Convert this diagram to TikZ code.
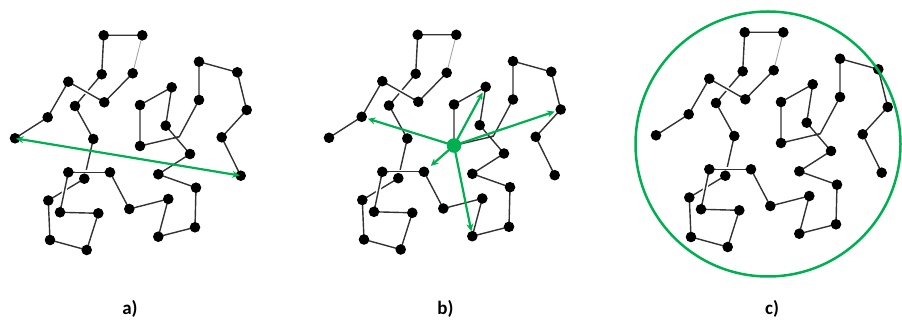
\documentclass[tikz,border=0pt]{standalone}
\usepackage{fontspec}
\setmainfont{Carlito}
\usetikzlibrary{arrows.meta}
\definecolor{grn}{RGB}{0,176,80}
\definecolor{seg}{RGB}{50,50,50}
\begin{document}
\begin{tikzpicture}[x=1pt,y=-1pt,
  chainseg/.style={draw=seg,line width=1.4pt},
  frontseg/.style={draw=seg,line width=1.4pt,preaction={draw=white,line width=4.5pt,shorten >=6.5pt,shorten <=6.5pt}},
  lightseg/.style={draw=gray!70,line width=0.9pt},
  bead/.style={fill=black},
  garrow/.style={draw=grn,line width=2.2pt,-{Stealth[length=7.5pt,width=7pt]}},
  lbl/.style={font=\bfseries\fontsize{19}{22}\selectfont}]
\useasboundingbox (0,0) rectangle (902,320);
\foreach \p/\dx/\dy in {a/0/0,b/314/-0.5,c/641/-3}{
 \begin{scope}[shift={(\dx,\dy)}]
  \coordinate (\p1) at (15,138.3);
  \coordinate (\p2) at (47.7,117.3);
  \coordinate (\p3) at (68.3,81.7);
  \coordinate (\p4) at (104.3,102.3);
  \coordinate (\p5) at (132.7,73.3);
  \coordinate (\p6) at (142.3,35.3);
  \coordinate (\p7) at (103.7,35.3);
  \coordinate (\p8) at (101.7,74.3);
  \coordinate (\p9) at (75,106);
  \coordinate (\p10) at (93.3,139);
  \coordinate (\p11) at (84.3,178.7);
  \coordinate (\p12) at (48.3,200.5);
  \coordinate (\p13) at (50,240);
  \coordinate (\p14) at (86.7,250);
  \coordinate (\p15) at (98.3,213.3);
  \coordinate (\p16) at (60,212.3);
  \coordinate (\p17) at (68.3,172.3);
  \coordinate (\p18) at (110,172.3);
  \coordinate (\p19) at (129.3,209);
  \coordinate (\p20) at (168.3,199);
  \coordinate (\p21) at (158.3,236.7);
  \coordinate (\p22) at (195,227.3);
  \coordinate (\p23) at (196,187.7);
  \coordinate (\p24) at (158.3,174.3);
  \coordinate (\p25) at (190,154);
  \coordinate (\p26) at (165.7,125.7);
  \coordinate (\p27) at (171.7,87.3);
  \coordinate (\p28) at (140,105);
  \coordinate (\p29) at (140,146);
  \coordinate (\p30) at (179.3,136.7);
  \coordinate (\p31) at (199,100);
  \coordinate (\p32) at (199,61.7);
  \coordinate (\p33) at (237.3,72.3);
  \coordinate (\p34) at (246.7,110);
  \coordinate (\p35) at (221.7,137.3);
  \coordinate (\p36) at (240.7,175.7);
 \end{scope}
 % chain segments
 \draw[chainseg] (\p1) -- (\p2) -- (\p3) -- (\p4) -- (\p5);
 \draw[lightseg] (\p5) -- (\p6);
 \draw[chainseg] (\p6) -- (\p7) -- (\p8) -- (\p9) -- (\p10) -- (\p11) -- (\p12) -- (\p13) -- (\p14) -- (\p15) -- (\p16) -- (\p17) -- (\p18) -- (\p19) -- (\p20) -- (\p21) -- (\p22) -- (\p23) -- (\p24) -- (\p25) -- (\p26) -- (\p27) -- (\p28) -- (\p29) -- (\p30) -- (\p31) -- (\p32) -- (\p33) -- (\p34) -- (\p35) -- (\p36);
 % segments in front (with gaps in those behind)
 \path[frontseg] (\p3) -- (\p4);
 \path[frontseg] (\p17) -- (\p18);
 \path[frontseg] (\p16) -- (\p17);
 \path[frontseg] (\p29) -- (\p30);
 % beads
 \foreach \i in {1,...,29,31,32,33,34,35,36}{
   \fill[bead] (\p\i) circle (5.3);
 }
}
% panel a: end-to-end distance
\draw[draw=grn,line width=2.2pt,{Stealth[length=7.5pt,width=7pt]}-{Stealth[length=7.5pt,width=7pt]},shorten <=1pt,shorten >=1pt] (a1) -- (a36);
% panel b: centre of mass and radii
\draw[garrow,shorten >=6.5pt] (b29) -- (b2);
\draw[garrow,shorten >=6.5pt] (b29) -- (b27);
\draw[garrow,shorten >=6.5pt] (b29) -- (b34);
\draw[garrow,shorten >=9pt] (b29) -- (b18);
\draw[garrow,shorten >=5pt] (b29) -- (b21);
\fill[grn] (b29) circle (7.3);
% panel c: enclosing sphere
\node[draw=grn,line width=2.5pt,circle,minimum size=265pt,inner sep=0pt] (sphere) at (768,144) {};
% labels
\node[lbl] (la) at (130,309) {a)};
\node[lbl] (lb) at (445.5,309) {b)};
\node[lbl] (lc) at (772,309) {c)};
\end{tikzpicture}
\end{document}
